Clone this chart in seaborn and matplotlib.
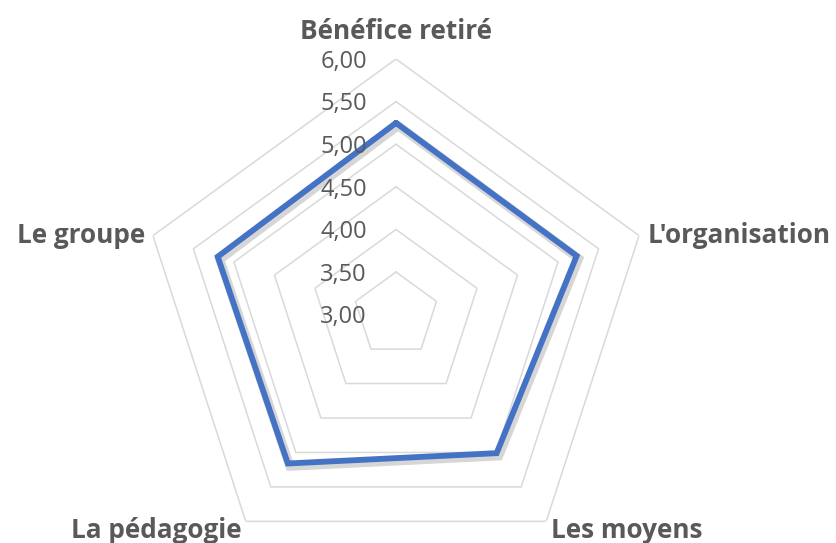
import numpy as np
import pandas as pd
import matplotlib
matplotlib.use("Agg")
import matplotlib.pyplot as plt
import matplotlib.patheffects as pe
import seaborn as sns

# Data
categories = ["Bénéfice retiré", "L'organisation", "Les moyens", "La pédagogie", "Le groupe"]
scores = [5.25, 5.23, 5.01, 5.16, 5.20]
ring_levels = [3.0, 3.5, 4.0, 4.5, 5.0, 5.5, 6.0]

sns.set_theme(style="white")
plt.rcParams['font.family'] = ['Open Sans', 'DejaVu Sans']

n = len(categories)
angles = [2 * np.pi * i / n for i in range(n)]
# close the polygon at 2*pi so seaborn doesn't merge it with angle 0
df = pd.DataFrame({"angle": angles + [2 * np.pi], "score": scores + [scores[0]]})

fig = plt.figure(figsize=(8.37, 5.43), dpi=100)
ax = fig.add_axes([0.1677, -0.0501, 0.6108, 0.9414], projection="polar")
ax.set_theta_offset(np.pi / 2)
ax.set_theta_direction(-1)
ax.set_ylim(3, 6)
ax.grid(False)
ax.spines["polar"].set_visible(False)
ax.set_xticks([])
ax.set_yticks([])
ax.set_facecolor("none")

# pentagon gridlines
closed = angles + [2 * np.pi]
for lvl in ring_levels[1:]:
    ax.plot(closed, [lvl] * len(closed), color="#D9D9D9", lw=1.1, zorder=1)

# data series
sns.lineplot(data=df, x="angle", y="score", sort=False, ax=ax,
             color="#4472C4", lw=4.2, zorder=3)
ax.lines[-1].set_path_effects([
    pe.SimpleLineShadow(offset=(1.5, -2), shadow_color="black", alpha=0.16, linewidth=6.5),
    pe.Normal()])
ax.lines[-1].set_solid_joinstyle("miter")
ax.set_xlabel("")
ax.set_ylabel("")

# ring value labels, left of the top axis
for lvl in ring_levels:
    ax.annotate(f"{lvl:.2f}".replace(".", ","), xy=(0, lvl), xytext=(-21, -2),
                textcoords="offset points", ha="right", va="center",
                fontsize=17, color="#595959", annotation_clip=False)

# category labels
label_pos = [(6.36, "center"), (6.1, "left"), (6.09, "left"), (6.09, "right"), (6.1, "right")]
for ang, name, (r, ha) in zip(angles, categories, label_pos):
    ax.annotate(name, xy=(ang, r), xytext=(0, -2), textcoords="offset points",
                ha=ha, va="center", fontsize=18.8, fontweight="bold", color="#595959",
                annotation_clip=False)

fig.savefig("out.png", dpi=100)
